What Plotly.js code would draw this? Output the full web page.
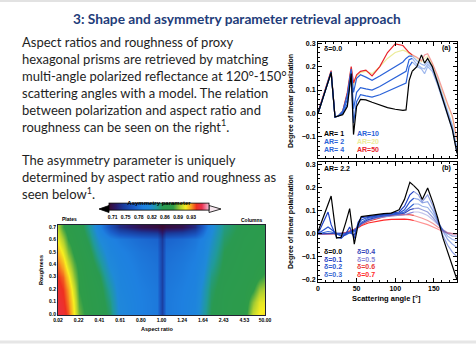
<!DOCTYPE html>
<html><head><meta charset="utf-8">
<script src="https://cdn.plot.ly/plotly-3.0.1.min.js"></script>
<style>html,body{margin:0;padding:0;background:#fff;}#chart{width:476px;height:344px;}</style>
</head><body><div id="chart"></div>
<script>
// ---------- Panel (a): delta = 0.0, several aspect ratios ----------
const angA = [0,8,17,22,26,32,38,43,46,50,55,62,70,80,90,100,110,114,118,122,128,134,138,142,148,155,162,168,174,180];
const dlpAR1  = [0.0,0.085,0.175,-0.015,-0.01,-0.005,0.03,0.17,-0.09,0.03,0.06,0.058,0.048,0.035,0.025,0.018,0.013,0.015,0.14,0.18,0.2,0.25,0.215,0.235,0.2,0.13,0.06,0.0,-0.07,-0.17];
const dlpAR2  = [0.0,0.085,0.175,-0.015,-0.012,0.0,0.04,0.17,-0.04,0.05,0.08,0.075,0.07,0.08,0.095,0.11,0.125,0.13,0.2,0.22,0.2,0.19,0.17,0.2,0.18,0.12,0.05,0.0,-0.07,-0.17];
const dlpAR4  = [0.0,0.085,0.175,-0.015,-0.012,0.005,0.06,0.18,0.02,0.09,0.11,0.105,0.1,0.115,0.135,0.155,0.175,0.18,0.23,0.235,0.21,0.195,0.19,0.21,0.19,0.13,0.06,0.01,-0.06,-0.16];
const dlpAR10 = [0.0,0.085,0.178,-0.015,-0.01,0.01,0.08,0.19,0.09,0.15,0.165,0.155,0.142,0.16,0.18,0.2,0.22,0.235,0.245,0.245,0.225,0.21,0.205,0.22,0.2,0.14,0.07,0.02,-0.05,-0.15];
const dlpAR20 = [0.0,0.087,0.18,-0.015,-0.01,0.01,0.085,0.195,0.12,0.16,0.175,0.18,0.17,0.2,0.235,0.26,0.27,0.265,0.255,0.25,0.235,0.22,0.235,0.245,0.21,0.15,0.085,0.035,-0.02,-0.12];
const dlpAR50 = [0.005,0.09,0.183,-0.014,-0.012,0.01,0.09,0.2,0.13,0.165,0.18,0.185,0.16,0.2,0.26,0.297,0.29,0.275,0.26,0.25,0.24,0.225,0.25,0.255,0.215,0.16,0.09,0.04,-0.01,-0.11];

// ---------- Panel (b): AR = 2.2, several roughness values ----------
const angB = [0,8,13,17,24,30,36,41,47,52,56,65,75,85,95,105,112,119,124,130,135,142,149,155,162,168,174,180];
const dlpD00 = [0.01,0.085,0.13,0.165,-0.018,-0.015,0.05,0.11,-0.045,0.04,0.075,0.08,0.085,0.088,0.09,0.105,0.15,0.225,0.21,0.19,0.15,0.2,0.135,0.07,-0.02,-0.08,-0.13,-0.2];
const dlpD01 = [0.0,0.06,0.095,0.04,-0.015,-0.02,0.0,0.03,-0.02,0.05,0.07,0.075,0.08,0.085,0.088,0.095,0.12,0.17,0.185,0.17,0.14,0.17,0.12,0.06,-0.01,-0.05,-0.08,-0.1];
const dlpD02 = [0.0,0.02,0.03,0.02,0.0,-0.01,-0.005,0.005,-0.005,0.04,0.06,0.072,0.078,0.082,0.086,0.09,0.105,0.14,0.155,0.15,0.135,0.14,0.1,0.055,0.01,-0.025,-0.045,-0.06];
const dlpD03 = [0.0,0.005,0.01,0.008,0.0,-0.005,0.0,0.005,0.01,0.03,0.05,0.068,0.075,0.08,0.085,0.088,0.095,0.115,0.13,0.13,0.12,0.115,0.085,0.05,0.015,-0.01,-0.025,-0.03];
const dlpD04 = [0.0,0.0,0.003,0.003,0.0,0.0,0.003,0.008,0.015,0.03,0.045,0.062,0.072,0.078,0.082,0.085,0.09,0.105,0.11,0.112,0.105,0.095,0.07,0.045,0.015,0.0,-0.01,-0.01];
const dlpD05 = [0.0,0.0,0.0,0.002,0.0,0.0,0.003,0.008,0.018,0.03,0.042,0.058,0.068,0.074,0.078,0.08,0.083,0.09,0.095,0.095,0.09,0.08,0.06,0.04,0.018,0.005,0.0,0.0];
const dlpD06 = [0.0,0.0,0.0,0.002,0.0,0.001,0.004,0.01,0.02,0.03,0.04,0.055,0.066,0.074,0.08,0.083,0.084,0.083,0.08,0.075,0.068,0.058,0.045,0.03,0.015,0.005,0.0,0.0];
const dlpD07 = [0.0,0.0,0.0,0.002,0.0,0.002,0.005,0.01,0.018,0.027,0.035,0.047,0.055,0.06,0.063,0.065,0.064,0.062,0.058,0.053,0.048,0.04,0.03,0.02,0.01,0.003,0.0,0.0];

// ---------- Heatmap: asymmetry parameter vs aspect ratio / roughness ----------
const arTickLabels = ['0.02','0.22','0.41','0.61','0.80','1.00','1.24','1.64','2.43','4.53','50.00'];
const arTickPos = [0,1,2,3,4,5,6,7,8,9,10];
const arGrid = [0,0.25,0.5,0.75,1.0,1.5,2.0,2.5,3.0,4.0,4.8,5.0,5.2,6.0,6.6,7.0,7.4,8.0,9.0,9.4,9.7,10];
const roughLevels = [0.0,0.1,0.2,0.3,0.4,0.5,0.6,0.7];
const roughTickLabels = ['0.0','0.1','0.2','0.3','0.4','0.5','0.6','0.7'];
const asymGrid = [
  [0.955,0.952,0.94,0.915,0.89,0.872,0.862,0.845,0.81,0.795,0.79,0.745,0.79,0.795,0.805,0.83,0.85,0.86,0.87,0.905,0.915,0.918],
  [0.953,0.948,0.935,0.912,0.885,0.87,0.86,0.84,0.808,0.795,0.79,0.745,0.79,0.795,0.803,0.826,0.848,0.86,0.868,0.895,0.91,0.912],
  [0.95,0.944,0.93,0.905,0.88,0.868,0.858,0.832,0.805,0.794,0.789,0.745,0.789,0.794,0.80,0.822,0.845,0.858,0.865,0.878,0.895,0.9],
  [0.945,0.938,0.92,0.895,0.878,0.865,0.852,0.822,0.803,0.792,0.787,0.745,0.787,0.792,0.798,0.815,0.84,0.856,0.863,0.868,0.878,0.885],
  [0.936,0.925,0.905,0.886,0.875,0.862,0.84,0.812,0.80,0.79,0.785,0.745,0.785,0.79,0.796,0.808,0.832,0.853,0.862,0.864,0.868,0.872],
  [0.925,0.912,0.892,0.877,0.87,0.855,0.828,0.805,0.797,0.787,0.782,0.745,0.782,0.787,0.793,0.803,0.825,0.85,0.86,0.862,0.864,0.866],
  [0.912,0.898,0.88,0.871,0.865,0.845,0.815,0.798,0.79,0.78,0.775,0.74,0.775,0.78,0.788,0.798,0.818,0.845,0.858,0.86,0.862,0.863],
  [0.9,0.882,0.871,0.866,0.86,0.835,0.80,0.76,0.73,0.71,0.705,0.70,0.705,0.71,0.73,0.77,0.81,0.84,0.855,0.858,0.86,0.86]
];
const cbTickVals = [0.71,0.7467,0.7833,0.82,0.8567,0.8933,0.93];
const cbTickText = ['0.71','0.75','0.78','0.82','0.86','0.89','0.93'];

// ---------- helpers ----------
const W = 476, H = 344;
const px = v => v / W;
const py = v => 1 - v / H;
const FONT = 'Liberation Sans, Arial, sans-serif';
const traces = [];

function addLine(xs, ys, color, fadeIdx, xa, ya, fadeOpacity) {
  const base = {type:'scatter', mode:'lines', xaxis:xa, yaxis:ya, hoverinfo:'skip', showlegend:false,
                line:{color:color, width:1.2}};
  traces.push(Object.assign({}, base, {x: xs.slice(0, fadeIdx + 1), y: ys.slice(0, fadeIdx + 1)}));
  traces.push(Object.assign({}, base, {x: xs.slice(fadeIdx), y: ys.slice(fadeIdx), opacity: fadeOpacity}));
}

// panel a
addLine(angA, dlpAR20, '#ecec9a', 19, 'x', 'y', 0.6);
addLine(angA, dlpAR50, '#e8232a', 19, 'x', 'y', 0.45);
addLine(angA, dlpAR10, '#2a62d8', 19, 'x', 'y', 0.45);
addLine(angA, dlpAR4,  '#2a62d8', 19, 'x', 'y', 0.45);
addLine(angA, dlpAR2,  '#2a62d8', 19, 'x', 'y', 0.45);
addLine(angA, dlpAR1,  '#000000', 19, 'x', 'y', 1);

// panel b
addLine(angB, dlpD07, '#ff2a2a', 18, 'x2', 'y2', 0.5);
addLine(angB, dlpD06, '#e83a3a', 18, 'x2', 'y2', 0.5);
addLine(angB, dlpD05, '#8a8ad8', 18, 'x2', 'y2', 0.5);
addLine(angB, dlpD04, '#3344b8', 18, 'x2', 'y2', 0.5);
addLine(angB, dlpD03, '#3a6ad4', 18, 'x2', 'y2', 0.5);
addLine(angB, dlpD02, '#2a55d0', 18, 'x2', 'y2', 0.5);
addLine(angB, dlpD01, '#1f3fc4', 18, 'x2', 'y2', 0.5);
addLine(angB, dlpD00, '#000000', 18, 'x2', 'y2', 1);

// heatmap (zmin 0.70 .. zmax 0.98)
traces.push({
  type:'heatmap', x: arGrid, y: roughLevels, z: asymGrid, xaxis:'x3', yaxis:'y3',
  zsmooth:'best', zmin:0.70, zmax:0.98, hoverinfo:'skip',
  colorscale:[[0,'#3a0a30'],[0.071,'#2a1a6a'],[0.143,'#1a3a9a'],[0.25,'#1a5cc8'],[0.339,'#1e80e0'],[0.41,'#1f8ad8'],
              [0.482,'#209a9a'],[0.536,'#2a9a50'],[0.643,'#2e9c48'],[0.714,'#b0d030'],[0.768,'#f8ee20'],[0.821,'#f8a020'],
              [0.875,'#ee3020'],[0.929,'#e83050'],[1,'#f6c0d8']],
  colorbar:{orientation:'h', x:px(159), xanchor:'center', y:py(209), yanchor:'middle',
            len:100, lenmode:'pixels', thickness:7, thicknessmode:'pixels',
            outlinewidth:0.8, outlinecolor:'#000', xpad:0, ypad:0,
            ticks:'outside', ticklen:3, tickcolor:'rgba(0,0,0,0)', tickangle:0,
            tickvals:cbTickVals, ticktext:cbTickText,
            tickfont:{family:FONT, size:5, color:'#000', weight:'bold'},
            title:{text:'Asymmetry parameter', side:'top', font:{family:FONT, size:6, color:'#000', weight:'bold'}}}
});

const lineAxis = {showline:true, linecolor:'#000', linewidth:1, mirror:'allticks', ticks:'inside', ticklen:4,
                  tickcolor:'#000', showgrid:false, zeroline:false,
                  tickfont:{family:FONT, size:7, color:'#000', weight:'bold'}};

const layout = {
  width:W, height:H, margin:{l:0,r:0,t:0,b:0}, paper_bgcolor:'#fff', plot_bgcolor:'#fff', showlegend:false,
  xaxis: Object.assign({}, lineAxis, {domain:[px(318),px(457)], range:[0,180], dtick:50, anchor:'y', showticklabels:false,
          minor:{ticks:'inside', ticklen:2, dtick:10, tickcolor:'#000'}}),
  yaxis: Object.assign({}, lineAxis, {domain:[py(158),py(42)], range:[-0.19,0.305], dtick:0.1, tickformat:'.1f', anchor:'x',
          minor:{ticks:'inside', ticklen:2, dtick:0.02, tickcolor:'#000'}}),
  xaxis2: Object.assign({}, lineAxis, {domain:[px(318),px(457)], range:[0,180], dtick:50, anchor:'y2',
          minor:{ticks:'inside', ticklen:2, dtick:10, tickcolor:'#000'}}),
  yaxis2: Object.assign({}, lineAxis, {domain:[py(282),py(162)], range:[-0.21,0.313], dtick:0.1, tickformat:'.1f', anchor:'x2',
          minor:{ticks:'inside', ticklen:2, dtick:0.02, tickcolor:'#000'}}),
  xaxis3: {domain:[px(58),px(265)], range:[0,10], anchor:'y3', tickvals:arTickPos, ticktext:arTickLabels, ticks:'',
           showline:true, linecolor:'#223', linewidth:1, mirror:true, showgrid:false, zeroline:false,
           tickfont:{family:FONT, size:5, color:'#000', weight:'bold'}},
  yaxis3: {domain:[py(315),py(225)], range:[-0.008,0.716], anchor:'x3', tickvals:roughLevels, ticktext:roughTickLabels, ticks:'',
           showline:true, linecolor:'#223', linewidth:1, mirror:true, showgrid:false, zeroline:false,
           tickfont:{family:FONT, size:5, color:'#000', weight:'bold'}},
  shapes:[
    {type:'path', xref:'paper', yref:'paper', path:`M ${px(99)} ${py(209)} L ${px(109)} ${py(205.5)} L ${px(109)} ${py(212.5)} Z`,
     fillcolor:'#000', line:{color:'#000', width:0.8}},
    {type:'path', xref:'paper', yref:'paper', path:`M ${px(221)} ${py(209)} L ${px(209)} ${py(205.5)} L ${px(209)} ${py(212.5)} Z`,
     fillcolor:'#f6e6ee', line:{color:'#000', width:0.8}},
    {type:'line', xref:'paper', yref:'paper', x0:0, x1:1, y0:py(1), y1:py(1), line:{color:'#e2e2e2', width:2}},
    {type:'line', xref:'paper', yref:'paper', x0:0, x1:1, y0:py(342), y1:py(342), line:{color:'#e6e6e6', width:3}}
  ],
  annotations:[]
};

function ann(text, x, y, opts) {
  layout.annotations.push(Object.assign({text:text, x:px(x), y:py(y), xref:'paper', yref:'paper', showarrow:false,
    xanchor:'left', yanchor:'middle', font:{family:FONT, size:7, color:'#000', weight:'bold'}}, opts || {}));
}

// title and body
ann('3: Shape and asymmetry parameter retrieval approach', 237, 19,
    {xanchor:'center', font:{family:'Lato, sans-serif', size:13.7, color:'#1f3d7a', weight:'bold'}});
ann('Aspect ratios and roughness of proxy<br>hexagonal prisms are retrieved by matching<br>multi-angle polarized reflectance at 120°-150°<br>' +
    'scattering angles with a model. The relation<br>between polarization and aspect ratio and<br>roughness can be seen on the right<sup>1</sup>.<br><br>' +
    'The asymmetry parameter is uniquely<br>determined by aspect ratio and roughness as<br>seen below<sup>1</sup>.',
    20, 32, {yanchor:'top', align:'left', font:{family:'Lato, sans-serif', size:13, color:'#1e1e1e'}});

// panel a labels
ann('δ=0.0', 322, 48);
ann('(a)', 453, 48, {xanchor:'right'});
ann('AR= 1', 322, 133);
ann('AR= 2', 322, 141, {font:{family:FONT, size:7, color:'#2a62d8', weight:'bold'}});
ann('AR= 4', 322, 149, {font:{family:FONT, size:7, color:'#2a62d8', weight:'bold'}});
ann('AR=10', 355, 133, {font:{family:FONT, size:7, color:'#2a62d8', weight:'bold'}});
ann('AR=20', 355, 141, {font:{family:FONT, size:7, color:'#ecec9a', weight:'bold'}});
ann('AR=50', 355, 149, {font:{family:FONT, size:7, color:'#e8232a', weight:'bold'}});
ann('Degree of linear polarization', 291, 101, {xanchor:'center', textangle:-90});

// panel b labels
ann('AR= 2.2', 322, 168);
ann('(b)', 453, 168, {xanchor:'right'});
ann('δ=0.0', 322, 251);
ann('δ=0.1', 322, 259, {font:{family:FONT, size:7, color:'#1f3fc4', weight:'bold'}});
ann('δ=0.2', 322, 266, {font:{family:FONT, size:7, color:'#2a55d0', weight:'bold'}});
ann('δ=0.3', 322, 274, {font:{family:FONT, size:7, color:'#3a6ad4', weight:'bold'}});
ann('δ=0.4', 355, 251, {font:{family:FONT, size:7, color:'#3344b8', weight:'bold'}});
ann('δ=0.5', 355, 259, {font:{family:FONT, size:7, color:'#8a8ad8', weight:'bold'}});
ann('δ=0.6', 355, 266, {font:{family:FONT, size:7, color:'#e83a3a', weight:'bold'}});
ann('δ=0.7', 355, 274, {font:{family:FONT, size:7, color:'#ff2a2a', weight:'bold'}});
ann('Degree of linear polarization', 291, 222, {xanchor:'center', textangle:-90});
ann('Scattering angle [°]', 386, 298, {xanchor:'center', font:{family:FONT, size:7.5, color:'#000', weight:'bold'}});

// heatmap labels
ann('Plates', 60, 219, {font:{family:FONT, size:5, color:'#000', weight:'bold'}});
ann('Columns', 265, 220, {xanchor:'right', font:{family:FONT, size:5, color:'#000', weight:'bold'}});
ann('Aspect ratio', 157, 329, {xanchor:'center', font:{family:FONT, size:5.5, color:'#000', weight:'bold'}});
ann('Roughness', 41, 270, {xanchor:'center', textangle:-90, font:{family:FONT, size:5.5, color:'#000', weight:'bold'}});

Plotly.newPlot('chart', traces, layout, {staticPlot:true, displayModeBar:false});
</script>
</body></html>
